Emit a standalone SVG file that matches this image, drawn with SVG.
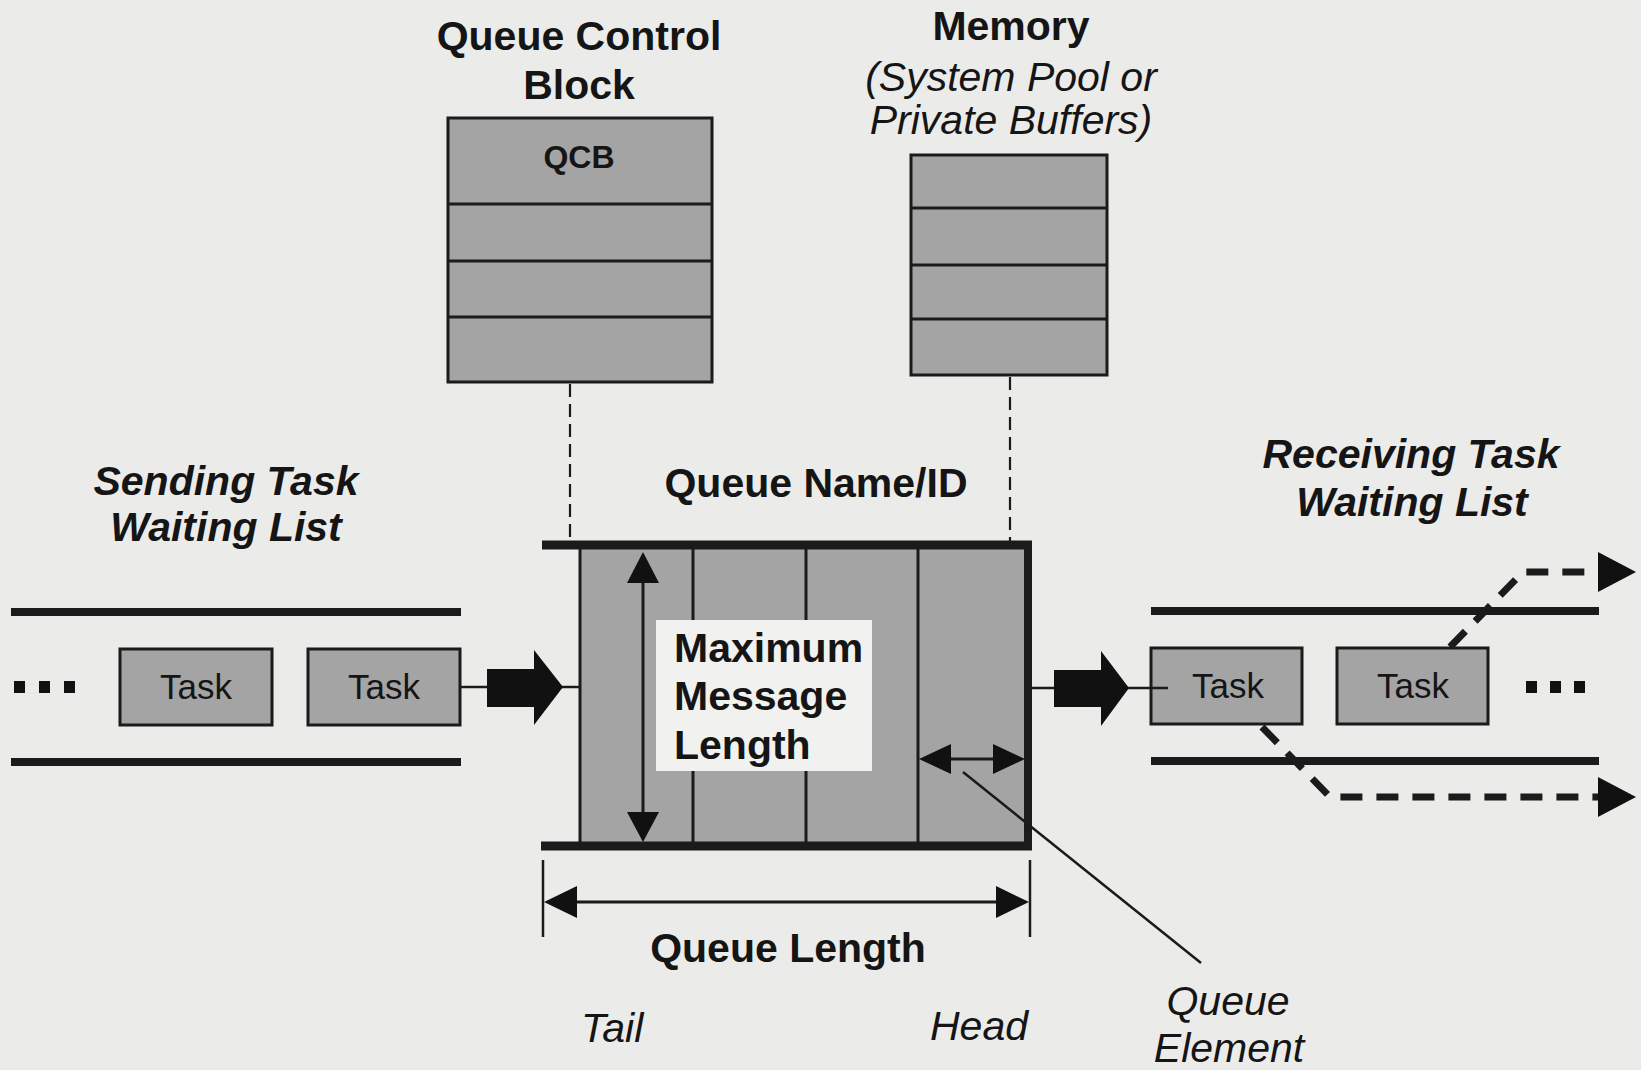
<svg xmlns="http://www.w3.org/2000/svg" width="1641" height="1070" viewBox="0 0 1641 1070">
  <defs>
    <style>
      .bg { fill: #ebebe9; }
      .cell { fill: #a4a4a4; stroke: #1b1b1b; stroke-width: 3; }
      .rule { stroke: #1b1b1b; stroke-width: 3; fill: none; }
      .bar { stroke: #1b1b1b; stroke-width: 8; fill: none; }
      .thin { stroke: #1b1b1b; stroke-width: 2.5; fill: none; }
      .dashv { stroke: #1b1b1b; stroke-width: 2.2; stroke-dasharray: 13 7; fill: none; }
      .dashflow { stroke: #1b1b1b; stroke-width: 7; stroke-dasharray: 22 14; fill: none; }
      .solid { fill: #111; stroke: none; }
      .t { font-family: "Liberation Sans", Arial, sans-serif; fill: #151515; }
      .title { font-size: 41px; font-weight: bold; }
      .ital { font-size: 41px; font-style: italic; }
      .bi { font-size: 41px; font-weight: bold; font-style: italic; }
      .task { font-size: 35px; }
      .mid { text-anchor: middle; }
    </style>
  </defs>

  <rect class="bg" x="0" y="0" width="1641" height="1070"/>

  <!-- Queue control block -->
  <g id="qcb">
    <text class="t title mid" x="579" y="50">Queue Control</text>
    <text class="t title mid" x="579" y="99">Block</text>
    <rect class="cell" x="448" y="118" width="264" height="264"/>
    <line class="rule" x1="448" y1="204" x2="712" y2="204"/>
    <line class="rule" x1="448" y1="261" x2="712" y2="261"/>
    <line class="rule" x1="448" y1="317" x2="712" y2="317"/>
    <text class="t mid" x="579" y="168" font-size="32" font-weight="bold">QCB</text>
  </g>

  <!-- Memory buffers -->
  <g id="memory">
    <text class="t title mid" x="1011" y="40">Memory</text>
    <text class="t ital mid" x="1011" y="91">(System Pool or</text>
    <text class="t ital mid" x="1011" y="134">Private Buffers)</text>
    <rect class="cell" x="911" y="155" width="196" height="220"/>
    <line class="rule" x1="911" y1="208" x2="1107" y2="208"/>
    <line class="rule" x1="911" y1="265" x2="1107" y2="265"/>
    <line class="rule" x1="911" y1="319" x2="1107" y2="319"/>
  </g>

  <!-- Message queue -->
  <g id="queue">
    <text class="t title mid" x="816" y="497">Queue Name/ID</text>
    <rect x="580" y="545" width="448" height="301" fill="#a4a4a4"/>
    <line class="rule" x1="580" y1="545" x2="580" y2="846"/>
    <line class="rule" x1="693" y1="545" x2="693" y2="846"/>
    <line class="rule" x1="806" y1="545" x2="806" y2="846"/>
    <line class="rule" x1="918" y1="545" x2="918" y2="846"/>
    <line class="bar" x1="1028" y1="541" x2="1028" y2="850"/>
    <line stroke="#1b1b1b" stroke-width="9" x1="542" y1="545" x2="1032" y2="545"/>
    <line stroke="#1b1b1b" stroke-width="9" x1="541" y1="846" x2="1032" y2="846"/>
    <rect x="656" y="620" width="216" height="151" fill="#f1f1ef"/>
    <text class="t title" x="674" y="662">Maximum</text>
    <text class="t title" x="674" y="710">Message</text>
    <text class="t title" x="674" y="759">Length</text>
  </g>

  <!-- Sending task waiting list -->
  <g id="sending-list">
    <text class="t bi mid" x="226" y="495">Sending Task</text>
    <text class="t bi mid" x="226" y="541">Waiting List</text>
    <line class="bar" x1="11" y1="612" x2="461" y2="612"/>
    <line class="bar" x1="11" y1="762" x2="461" y2="762"/>
    <rect class="solid" x="14" y="681" width="11" height="12"/>
    <rect class="solid" x="39" y="681" width="11" height="12"/>
    <rect class="solid" x="64" y="681" width="11" height="12"/>
  </g>
  <g id="send-task-1">
    <rect class="cell" x="120" y="649" width="152" height="76"/>
    <text class="t task mid" x="196" y="699">Task</text>
  </g>
  <g id="send-task-2">
    <rect class="cell" x="308" y="649" width="152" height="76"/>
    <text class="t task mid" x="384" y="699">Task</text>
  </g>

  <!-- Receiving task waiting list -->
  <g id="receiving-list">
    <text class="t bi mid" x="1411" y="468">Receiving Task</text>
    <text class="t bi mid" x="1412" y="516">Waiting List</text>
    <line class="bar" x1="1151" y1="611" x2="1599" y2="611"/>
    <line class="bar" x1="1151" y1="761" x2="1599" y2="761"/>
    <rect class="solid" x="1526" y="681" width="11" height="12"/>
    <rect class="solid" x="1550" y="681" width="11" height="12"/>
    <rect class="solid" x="1574" y="681" width="11" height="12"/>
  </g>
  <g id="recv-task-1">
    <rect class="cell" x="1151" y="648" width="151" height="76"/>
    <text class="t task mid" x="1228" y="698">Task</text>
  </g>
  <g id="recv-task-2">
    <rect class="cell" x="1337" y="648" width="151" height="76"/>
    <text class="t task mid" x="1413" y="698">Task</text>
  </g>

  <!-- Dimension and position labels -->
  <g id="labels">
    <text class="t title mid" x="788" y="962">Queue Length</text>
    <text class="t ital" x="581" y="1042">Tail</text>
    <text class="t ital" x="930" y="1040">Head</text>
    <text class="t ital mid" x="1228" y="1015">Queue</text>
    <text class="t ital mid" x="1229" y="1062">Element</text>
  </g>

  <!-- Connectors -->
  <g id="connectors">
    <!-- dashed links from QCB and memory to the queue -->
    <line class="dashv" x1="570" y1="384" x2="570" y2="541"/>
    <line class="dashv" x1="1010" y1="377" x2="1010" y2="541"/>

    <!-- sending list into queue -->
    <line class="thin" x1="460" y1="687" x2="490" y2="687"/>
    <line class="thin" x1="560" y1="687" x2="580" y2="687"/>
    <polygon class="solid" points="487,669 534,669 534,650 563,687 534,725 534,707 487,707"/>

    <!-- queue out to receiving list -->
    <line class="thin" x1="1030" y1="688" x2="1057" y2="688"/>
    <line class="thin" x1="1126" y1="688" x2="1168" y2="688"/>
    <polygon class="solid" points="1054,670 1101,670 1101,651 1129,688 1101,726 1101,707 1054,707"/>

    <!-- maximum message length -->
    <line class="rule" x1="643" y1="580" x2="643" y2="814"/>
    <polygon class="solid" points="643,552 627,583 659,583"/>
    <polygon class="solid" points="643,842 627,812 659,812"/>

    <!-- queue element width -->
    <line class="rule" x1="945" y1="759" x2="1000" y2="759"/>
    <polygon class="solid" points="919,759 951,744 951,774"/>
    <polygon class="solid" points="1025,759 993,744 993,774"/>
    <line class="thin" stroke-width="2" x1="963" y1="772" x2="1201" y2="963"/>

    <!-- queue length -->
    <line class="thin" x1="543" y1="860" x2="543" y2="937"/>
    <line class="thin" x1="1030" y1="860" x2="1030" y2="937"/>
    <line class="rule" x1="570" y1="902" x2="1004" y2="902"/>
    <polygon class="solid" points="544,902 577,886 577,918"/>
    <polygon class="solid" points="1029,902 996,886 996,918"/>

    <!-- tasks leaving the receiving list -->
    <path class="dashflow" d="M1450,647 L1523,572 L1600,572"/>
    <polygon class="solid" points="1598,552 1636,572 1598,592"/>
    <path class="dashflow" d="M1262,727 L1330,797 L1600,797"/>
    <polygon class="solid" points="1598,777 1636,797 1598,817"/>
  </g>
</svg>
